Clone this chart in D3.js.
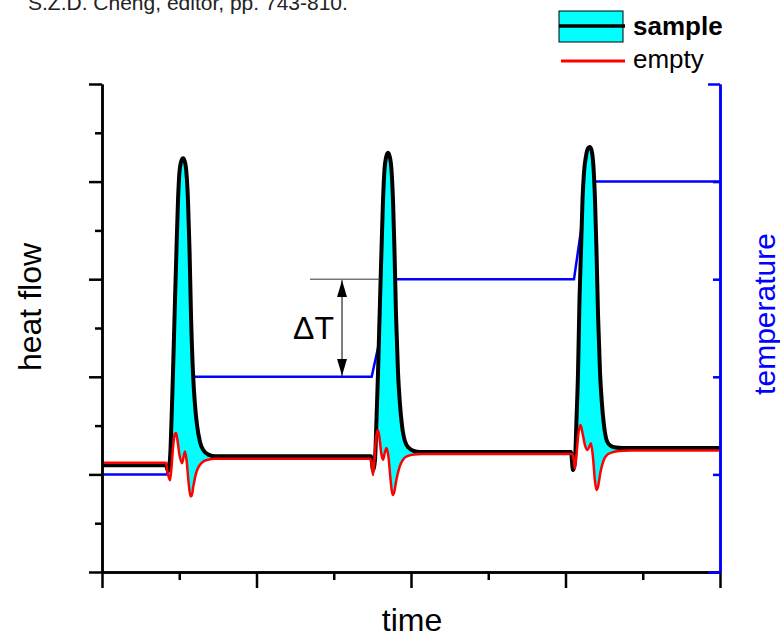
<!DOCTYPE html>
<head>
  <style>
    body { margin: 0; background: #fff; }
    text { font-family: "Liberation Sans", Arial, sans-serif; }
  </style>
<title>Heat flow of sample and empty run vs time</title>
</head>

<body>

  <script src="https://cdn.jsdelivr.net/npm/d3@7"></script>

  <script>
    // heat flow of the sample run: [time, heat flow]
    const sample = [
      [0, 2.19], [8.28, 2.19], [8.54, 2.07], [8.80, 2.30], [9.00, 3.11], [9.19, 4.08], [9.45, 5.57], [9.64, 6.60],
      [9.84, 7.62], [10.03, 8.20], [10.23, 8.40], [10.49, 8.48], [10.74, 8.40], [10.94, 8.16], [11.13, 7.62],
      [11.33, 6.60], [11.52, 5.27], [11.78, 4.08], [12.04, 3.42], [12.30, 3.01], [12.69, 2.66], [13.20, 2.48],
      [13.85, 2.40], [14.63, 2.37],
      [34.82, 2.37], [35.08, 2.09], [35.34, 2.30], [35.53, 3.11], [35.73, 4.08], [35.99, 5.57], [36.18, 6.60],
      [36.38, 7.62], [36.57, 8.25], [36.76, 8.49], [37.02, 8.59], [37.28, 8.49], [37.48, 8.22], [37.67, 7.62],
      [37.86, 6.60], [38.06, 5.27], [38.32, 4.08], [38.58, 3.42], [38.83, 3.01], [39.22, 2.68], [39.74, 2.54],
      [40.39, 2.48], [41.17, 2.46],
      [60.71, 2.46], [60.97, 2.09], [61.23, 2.30], [61.42, 3.11], [61.62, 4.08], [61.81, 5.57], [62.01, 6.60],
      [62.20, 7.62], [62.40, 8.20], [62.65, 8.52], [62.91, 8.68], [63.17, 8.71], [63.43, 8.60], [63.62, 8.30],
      [63.82, 7.62], [64.01, 6.60], [64.21, 5.27], [64.47, 4.08], [64.73, 3.42], [64.98, 3.01], [65.37, 2.68],
      [65.89, 2.58], [66.54, 2.55], [67.31, 2.54], [80, 2.54]
    ];

    // heat flow of the empty run: [time, heat flow]
    const empty = [
      [0, 2.24], [8.28, 2.24], [8.48, 2.05], [8.80, 1.88], [9.00, 2.15], [9.19, 2.55], [9.45, 2.83], [9.58, 2.85],
      [9.77, 2.70], [10.03, 2.40], [10.36, 2.23], [10.55, 2.35], [10.74, 2.47], [10.94, 2.30], [11.20, 1.85],
      [11.46, 1.55], [11.59, 1.55], [11.85, 1.78], [12.17, 2.02], [12.56, 2.17], [13.07, 2.26], [13.72, 2.30],
      [14.63, 2.32],
      [34.69, 2.32], [34.89, 2.25], [35.08, 1.99], [35.27, 2.30], [35.47, 2.75], [35.73, 2.91], [35.92, 2.75],
      [36.18, 2.40], [36.38, 2.30], [36.57, 2.42], [36.83, 2.54], [37.09, 2.35], [37.35, 1.90], [37.61, 1.58],
      [37.80, 1.62], [38.12, 1.90], [38.51, 2.15], [38.96, 2.30], [39.61, 2.38], [40.39, 2.41], [41.42, 2.42],
      [60.84, 2.42], [61.04, 2.33], [61.23, 2.12], [61.42, 2.40], [61.68, 2.85], [61.94, 3.01], [62.20, 2.85],
      [62.52, 2.60], [62.85, 2.50], [63.11, 2.58], [63.30, 2.64], [63.56, 2.35], [63.82, 1.85], [64.01, 1.68],
      [64.21, 1.75], [64.53, 2.05], [64.92, 2.28], [65.37, 2.40], [66.02, 2.45], [66.93, 2.48], [68.35, 2.49],
      [80, 2.49]
    ];

    // temperature program: [time, temperature step]
    const temperature = [
      [0, 1], [8.41, 1], [10.49, 2], [34.91, 2], [37.67, 3], [61.10, 3], [62.91, 4], [80, 4]
    ];

    // tick values (no labels in the original)
    const xMajor = [0, 20, 40, 60, 80];
    const xMinor = [10, 30, 50, 70];
    const yMajor = [0, 2, 4, 6, 8, 10];
    const yMinor = [1, 3, 5, 7, 9];
    const tMajor = [0, 5];
    const tMinor = [1, 2, 3, 4];

    // delta T marker: time of the arrow, from / to temperature step
    const deltaT = { time: 31.07, from: 2, to: 3, lineStart: 26.93, lineEnd: 36.0 };

    const W = 780, H = 637;

    const x = d3.scaleLinear().domain([0, 80]).range([102, 720]);
    const y = d3.scaleLinear().domain([0, 10]).range([572, 84]);
    const yT = d3.scaleLinear().domain([0, 5]).range([572, 84]);

    const svg = d3.select("body").append("svg")
      .attr("width", W)
      .attr("height", H);

    const defs = svg.append("defs");

    // arrow heads for the delta T marker
    defs.append("marker")
      .attr("id", "arrow")
      .attr("viewBox", "0 0 17 10")
      .attr("refX", 17).attr("refY", 5)
      .attr("markerWidth", 17).attr("markerHeight", 10)
      .attr("markerUnits", "userSpaceOnUse")
      .attr("orient", "auto-start-reverse")
      .append("path")
      .attr("d", "M0,0 L17,5 L0,10 Z")
      .attr("fill", "#000");

    // clip: everything above the empty curve
    defs.append("clipPath").attr("id", "aboveEmpty")
      .append("path")
      .attr("d", d3.area()
        .x(d => x(d[0]))
        .y0(y.range()[1] - 20)
        .y1(d => y(d[1]))
        .curve(d3.curveMonotoneX)(empty));

    // top reference text (cut off at the top edge)
    svg.append("text")
      .attr("x", 28).attr("y", 10)
      .style("font-size", "21px")
      .attr("fill", "#222")
      .text("S.Z.D. Cheng, editor, pp. 743-810.");

    // temperature line (behind everything)
    svg.append("path")
      .datum(temperature)
      .attr("fill", "none")
      .attr("stroke", "#0000ff")
      .attr("stroke-width", 2.5)
      .attr("d", d3.line().x(d => x(d[0])).y(d => yT(d[1])));

    // cyan area between sample and empty
    svg.append("path")
      .datum(sample)
      .attr("clip-path", "url(#aboveEmpty)")
      .attr("fill", "#00ffff")
      .attr("d", d3.area()
        .x(d => x(d[0]))
        .y0(y(0))
        .y1(d => y(d[1]))
        .curve(d3.curveMonotoneX));

    // sample (black)
    svg.append("path")
      .datum(sample)
      .attr("fill", "none")
      .attr("stroke", "#000")
      .attr("stroke-width", 4)
      .attr("stroke-linejoin", "round")
      .attr("d", d3.line().x(d => x(d[0])).y(d => y(d[1])).curve(d3.curveMonotoneX));

    // empty (red)
    svg.append("path")
      .datum(empty)
      .attr("fill", "none")
      .attr("stroke", "#ff0000")
      .attr("stroke-width", 2.5)
      .attr("stroke-linejoin", "round")
      .attr("d", d3.line().x(d => x(d[0])).y(d => y(d[1])).curve(d3.curveMonotoneX));

    // delta T annotation
    svg.append("line")
      .attr("x1", x(deltaT.lineStart)).attr("x2", x(deltaT.lineEnd))
      .attr("y1", yT(deltaT.to)).attr("y2", yT(deltaT.to))
      .attr("stroke", "#333").attr("stroke-width", 1);

    svg.append("line")
      .attr("x1", x(deltaT.time)).attr("x2", x(deltaT.time))
      .attr("y1", yT(deltaT.from) - 1).attr("y2", yT(deltaT.to) + 1)
      .attr("stroke", "#000").attr("stroke-width", 1)
      .attr("marker-start", "url(#arrow)")
      .attr("marker-end", "url(#arrow)");

    svg.append("text")
      .attr("x", x(deltaT.time) - 49)
      .attr("y", (yT(deltaT.from) + yT(deltaT.to)) / 2 + 11)
      .style("font-size", "32px")
      .text("\u0394T");

    // axes
    function styleAxis(g, color) {
      g.selectAll("path").attr("stroke", color).attr("stroke-width", 2.5);
      g.selectAll("line").attr("stroke", color).attr("stroke-width", 2.5);
    }

    svg.append("g")
      .attr("transform", `translate(${x(0)},0)`)
      .call(d3.axisLeft(y).tickValues(yMajor).tickSize(13).tickSizeOuter(0).tickFormat(""))
      .call(g => styleAxis(g, "#000"));
    svg.append("g")
      .attr("transform", `translate(${x(0)},0)`)
      .call(d3.axisLeft(y).tickValues(yMinor).tickSize(7).tickSizeOuter(0).tickFormat(""))
      .call(g => styleAxis(g, "#000"));

    svg.append("g")
      .attr("transform", `translate(0,${y(0)})`)
      .call(d3.axisBottom(x).tickValues(xMajor).tickSize(16).tickSizeOuter(0).tickFormat(""))
      .call(g => styleAxis(g, "#000"));
    svg.append("g")
      .attr("transform", `translate(0,${y(0)})`)
      .call(d3.axisBottom(x).tickValues(xMinor).tickSize(8).tickSizeOuter(0).tickFormat(""))
      .call(g => styleAxis(g, "#000"));

    // right temperature axis, ticks pointing inward
    svg.append("g")
      .attr("transform", `translate(${x(80)},0)`)
      .call(d3.axisLeft(yT).tickValues(tMajor).tickSize(12).tickSizeOuter(0).tickFormat(""))
      .call(g => styleAxis(g, "#0000ff"));
    svg.append("g")
      .attr("transform", `translate(${x(80)},0)`)
      .call(d3.axisLeft(yT).tickValues(tMinor).tickSize(7).tickSizeOuter(0).tickFormat(""))
      .call(g => styleAxis(g, "#0000ff"));

    // axis titles
    svg.append("text")
      .attr("transform", "translate(41,307) rotate(-90)")
      .style("text-anchor", "middle")
      .style("font-size", "32px")
      .text("heat flow");

    svg.append("text")
      .attr("x", 412).attr("y", 631)
      .style("text-anchor", "middle")
      .style("font-size", "32px")
      .text("time");

    svg.append("text")
      .attr("transform", "translate(775,314) rotate(-90)")
      .style("text-anchor", "middle")
      .style("font-size", "30px")
      .attr("fill", "#0000ff")
      .text("temperature");

    // legend
    const legend = svg.append("g");
    legend.append("rect")
      .attr("x", 559).attr("y", 11)
      .attr("width", 64).attr("height", 31)
      .attr("fill", "#00ffff")
      .attr("stroke", "#000").attr("stroke-width", 1);
    legend.append("line")
      .attr("x1", 559).attr("x2", 625)
      .attr("y1", 26).attr("y2", 26)
      .attr("stroke", "#000").attr("stroke-width", 3.5);
    legend.append("text")
      .attr("x", 633).attr("y", 35)
      .style("font-size", "26px")
      .style("font-weight", "bold")
      .text("sample");
    legend.append("line")
      .attr("x1", 561).attr("x2", 625)
      .attr("y1", 61).attr("y2", 61)
      .attr("stroke", "#ff0000").attr("stroke-width", 3);
    legend.append("text")
      .attr("x", 633).attr("y", 68)
      .style("font-size", "26px")
      .text("empty");
  </script>

</body>
